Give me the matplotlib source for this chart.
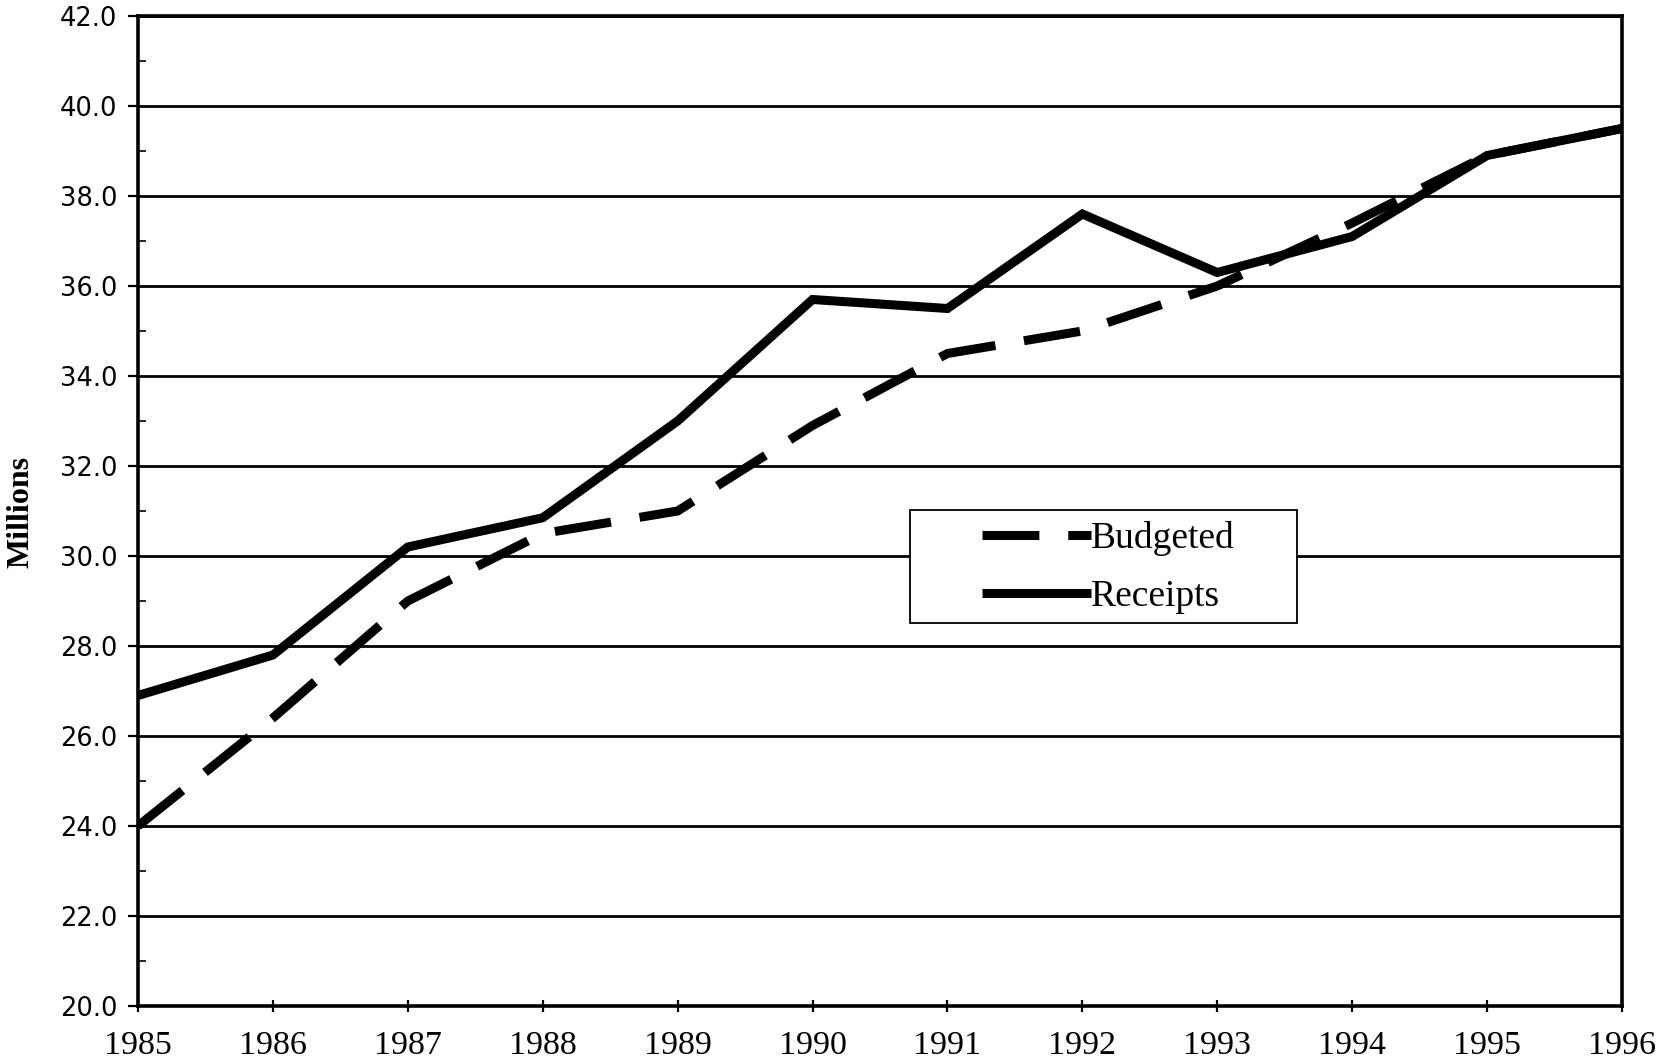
import matplotlib
matplotlib.use("Agg")
import matplotlib.pyplot as plt
from matplotlib.ticker import MultipleLocator, FormatStrFormatter
from matplotlib.patches import Rectangle

years = [1985, 1986, 1987, 1988, 1989, 1990, 1991, 1992, 1993, 1994, 1995, 1996]
budgeted = [24.0, 26.4, 29.0, 30.5, 31.0, 32.9, 34.5, 35.0, 36.0, 37.4, 38.9, 39.5]
receipts = [26.9, 27.8, 30.2, 30.85, 33.0, 35.7, 35.5, 37.6, 36.3, 37.1, 38.9, 39.5]
series_labels = ["Budgeted", "Receipts"]
y_label = "Millions"

fig = plt.figure(figsize=(16.64, 10.63), dpi=100)
ax = fig.add_axes([138/1664, 57/1063, (1622-138)/1664, (1006-16)/1063])

ax.plot(years, budgeted, color="black", lw=6.5, dashes=(6.3, 3.2),
        dash_capstyle="butt", dash_joinstyle="miter", label=series_labels[0], zorder=3)
ax.plot(years, receipts, color="black", lw=6.5, solid_joinstyle="miter",
        solid_capstyle="butt", label=series_labels[1], zorder=3)

ax.set_xlim(1985, 1996)
ax.set_ylim(20, 42)
ax.set_xticks(years)
ax.set_xticklabels([str(y) for y in years], fontfamily="Liberation Serif", fontsize=24.5)
ax.yaxis.set_major_locator(MultipleLocator(2))
ax.yaxis.set_minor_locator(MultipleLocator(1))
ax.yaxis.set_major_formatter(FormatStrFormatter("%.1f"))
for lab in ax.get_yticklabels():
    lab.set_fontfamily("DejaVu Sans")
    lab.set_fontsize(18.5)

ax.tick_params(axis="x", direction="inout", length=9, width=1.6, pad=13.5)
ax.tick_params(axis="y", which="major", direction="out", length=7, width=1.6, pad=8)
ax.tick_params(axis="y", which="minor", direction="in", length=6, width=1.2)

ax.grid(axis="y", which="major", color="black", lw=2.0)
ax.set_axisbelow(True)
for sp in ax.spines.values():
    sp.set_linewidth(2.6)
    sp.set_color("black")

fig.text(21/1664, 0.518, y_label, rotation=90, ha="center", va="center",
         fontfamily="Liberation Serif", fontweight="bold", fontsize=23)

# legend frame
ax.add_patch(Rectangle((0.52, 0.387), 0.261, 0.114, transform=ax.transAxes,
                       facecolor="white", edgecolor="black", lw=1.3, zorder=4))
leg = ax.legend(loc="upper left", bbox_to_anchor=(0.569, 0.490), frameon=False,
                borderpad=0, borderaxespad=0, handlelength=2.9, handletextpad=0.0,
                labelspacing=0.62, prop={"family": "Liberation Serif", "size": 27})
leg.set_zorder(5)

fig.savefig("out.png", dpi=100)
